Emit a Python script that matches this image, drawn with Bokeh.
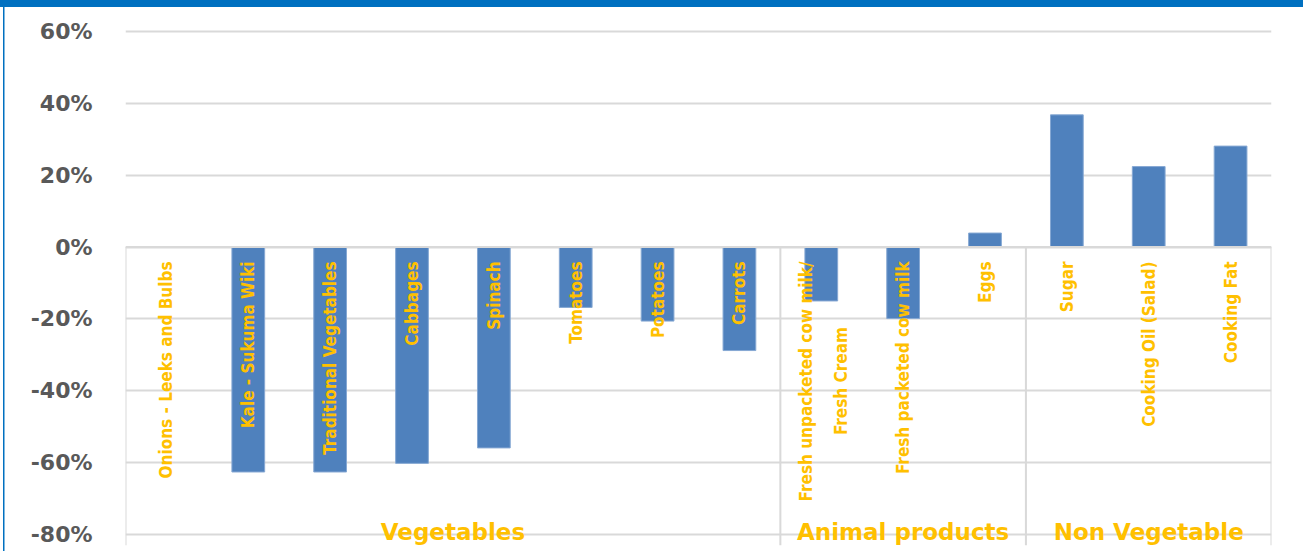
from bokeh.plotting import figure
from bokeh.embed import file_html
from bokeh.resources import INLINE
from bokeh.models import (FixedTicker, PrintfTickFormatter, Range1d, Span,
                          ColumnDataSource)
from bokeh.core.properties import value

# ---- data ----
categories = ["Onions - Leeks and Bulbs", "Kale - Sukuma Wiki", "Traditional Vegetables",
              "Cabbages", "Spinach", "Tomatoes", "Potatoes", "Carrots",
              "Fresh unpacketed cow milk/\nFresh Cream", "Fresh packeted cow milk", "Eggs",
              "Sugar", "Cooking Oil (Salad)", "Cooking Fat"]
values = [0.0, -62.6, -62.6, -60.2, -55.9, -16.8, -20.6, -28.8,
          -15.0, -19.9, 3.9, 36.8, 22.4, 28.1]
groups = ["Vegetables", "Animal products", "Non Vegetable"]
group_sizes = [8, 3, 3]
y_ticks = [-80, -60, -40, -20, 0, 20, 40, 60]

W, H = 1303, 551
GOLD = "#FFC000"
BLUE = "#4F81BD"
GRID = "#D9D9D9"
FRAME_BLUE = "#0070C0"
CAT_FONT = value("DejaVu Sans Condensed, Liberation Sans")

n = len(categories)
xs = [i + 0.5 for i in range(n)]

p = figure(width=W, height=H, output_backend="svg", toolbar_location=None,
           x_range=Range1d(0, n), y_range=Range1d(-83.06, 63.06),
           min_border_left=125, min_border_right=32, min_border_top=20, min_border_bottom=6)
p.outline_line_color = None
p.background_fill_color = "white"
p.border_fill_alpha = 0
# blue top band and thin left rule drawn as the page box background
p.styles = {
    "background": (f"linear-gradient({FRAME_BLUE},{FRAME_BLUE}) 0 0 / 100% 7px no-repeat, "
                   f"linear-gradient({FRAME_BLUE},{FRAME_BLUE}) 3px 0 / 1.5px 100% no-repeat, "
                   "white")
}

# axes
p.xaxis.visible = False
p.xgrid.visible = False
p.yaxis.ticker = FixedTicker(ticks=y_ticks)
p.yaxis.formatter = PrintfTickFormatter(format="%d%%")
p.yaxis.axis_line_color = None
p.yaxis.major_tick_line_color = None
p.yaxis.minor_tick_line_color = None
p.yaxis.major_label_standoff = 27
p.yaxis.major_label_text_font = "DejaVu Sans"
p.yaxis.major_label_text_font_style = "bold"
p.yaxis.major_label_text_font_size = "22px"
p.yaxis.major_label_text_color = "#595959"
p.ygrid.ticker = FixedTicker(ticks=y_ticks)
p.ygrid.grid_line_color = GRID
p.ygrid.grid_line_width = 2

# bars
src = ColumnDataSource(dict(x=xs, top=values))
p.vbar(x="x", top="top", bottom=0, width=0.4, source=src,
       fill_color=BLUE, line_color="#86a8d3", line_width=1)

# zero axis line and group separators
p.add_layout(Span(location=0, dimension="width", line_color=GRID, line_width=2))
bounds = [0]
for s in group_sizes:
    bounds.append(bounds[-1] + s)
p.segment(x0=bounds, y0=[0] * len(bounds), x1=bounds, y1=[-83.06] * len(bounds),
          line_color=GRID, line_width=2)

# category labels (rotated)
label_top = -4.0
FS = "17px"
single_x, single_t = [], []
for x, c in zip(xs, categories):
    if "\n" in c:
        l1, l2 = c.split("\n")
        p.text(x=[x - 0.19], y=[label_top], text=[l1], angle=1.5708,
               text_align="right", text_baseline="middle", text_color=GOLD,
               text_font=CAT_FONT, text_font_style="bold", text_font_size=FS)
        p.text(x=[x + 0.235], y=[-37.3], text=[l2], angle=1.5708,
               text_align="center", text_baseline="middle", text_color=GOLD,
               text_font=CAT_FONT, text_font_style="bold", text_font_size=FS)
    else:
        single_x.append(x)
        single_t.append(c)
p.text(x=single_x, y=[label_top] * len(single_x), text=single_t, angle=1.5708,
       text_align="right", text_baseline="middle", text_color=GOLD,
       text_font=CAT_FONT, text_font_style="bold", text_font_size=FS)

# group labels
gx = [(bounds[i] + bounds[i + 1]) / 2 for i in range(len(groups))]
p.text(x=gx, y=[-79.2] * len(gx), text=groups, text_align="center",
       text_baseline="middle", text_color=GOLD, text_font=value("DejaVu Sans"),
       text_font_style="bold", text_font_size="23px")

open("out.html", "w").write(file_html(p, INLINE))
